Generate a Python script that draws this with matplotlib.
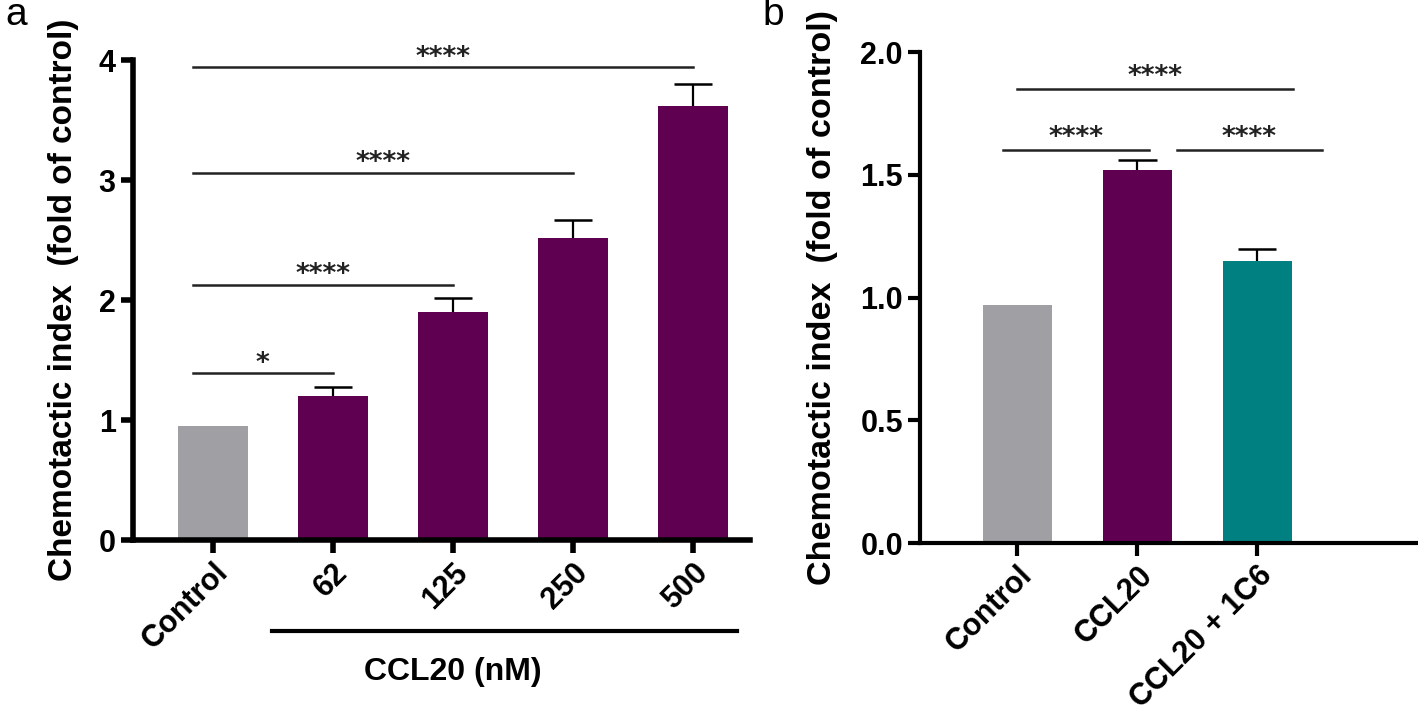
import matplotlib
matplotlib.use("Agg")
import matplotlib.pyplot as plt

plt.rcParams['font.family'] = ['Liberation Sans', 'DejaVu Sans']

GRAY = '#a0a0a4'
PURPLE = '#600050'
TEAL = '#008080'

# panel a data
a_labels = ['Control', '62', '125', '250', '500']
a_means = [0.95, 1.20, 1.90, 2.52, 3.62]
a_err = [0.0, 0.08, 0.12, 0.15, 0.18]
a_colors = [GRAY, PURPLE, PURPLE, PURPLE, PURPLE]
# significance bars: (left x, right x, height, text)
a_sig = [(-0.17, 1, 1.39, '*'), (-0.17, 2, 2.13, '****'),
         (-0.17, 3, 3.06, '****'), (-0.17, 4, 3.94, '****')]

# panel b data
b_labels = ['Control', 'CCL20', 'CCL20 + 1C6']
b_means = [0.97, 1.52, 1.15]
b_err = [0.0, 0.04, 0.05]
b_colors = [GRAY, PURPLE, TEAL]
b_sig = [(0.0, 2.3, 1.85, '****'), (-0.12, 1.1, 1.60, '****'),
         (1.33, 2.54, 1.60, '****')]

fig = plt.figure(figsize=(14.18, 7.26), dpi=100)
ax1 = fig.add_axes([0.0938, 0.256, 0.435, 0.661])
ax2 = fig.add_axes([0.649, 0.252, 0.351, 0.676])


def style(ax, lw):
    for s in ['top', 'right']:
        ax.spines[s].set_visible(False)
    for s in ['left', 'bottom']:
        ax.spines[s].set_linewidth(lw)
    ax.tick_params(width=lw, length=9, labelsize=22)
    for t in ax.get_yticklabels():
        t.set_fontweight('bold')


def draw(ax, labels, means, err, colors, sig, star_dy):
    x = list(range(len(labels)))
    ax.bar(x, means, width=0.58, color=colors, zorder=2)
    # upper-only error bars with cap
    for xi, m, e in zip(x, means, err):
        if e > 0:
            ax.vlines(xi, m, m + e, color='black', lw=1.6, zorder=3)
            ax.hlines(m + e, xi - 0.16, xi + 0.16, color='black', lw=1.8,
                      zorder=3)
    for x0, x1, h, txt in sig:
        ax.plot([x0, x1], [h, h], color='#222222', lw=1.8, zorder=3)
        ax.text((x0 + x1) / 2, h + star_dy, txt, ha='center', va='center',
                fontsize=19, family='DejaVu Sans', fontweight='bold',
                color='#222222')
    ax.set_xticks(x)
    ax.set_xticklabels(labels, rotation=45, ha='right', rotation_mode='anchor',
                       fontsize=19.5, fontweight='bold')


draw(ax1, a_labels, a_means, a_err, a_colors, a_sig, 0.08)
ax1.set_xlim(-0.667, 4.475)
ax1.set_ylim(0, 4)
ax1.set_yticks([0, 1, 2, 3, 4])
style(ax1, 4)
ax1.set_ylabel('Chemotactic index  (fold of control)', fontsize=24,
               fontweight='bold', labelpad=14)

# bracket under CCL20 concentrations
ax1.plot([0.49, 4.37], [-0.76, -0.76], color='black', lw=3, clip_on=False)
ax1.text(2.0, -1.1, 'CCL20 (nM)', ha='center', va='center', fontsize=23,
         fontweight='bold')

draw(ax2, b_labels, b_means, b_err, b_colors, b_sig, 0.05)
ax2.set_xlim(-0.81, 3.34)
ax2.set_ylim(0, 2.0)
ax2.set_yticks([0, 0.5, 1.0, 1.5, 2.0])
ax2.set_yticklabels(['0.0', '0.5', '1.0', '1.5', '2.0'])
style(ax2, 3)
ax2.set_ylabel('Chemotactic index  (fold of control)', fontsize=24.6,
               fontweight='bold', labelpad=16)

fig.text(0.004, 0.965, 'a', fontsize=28)
fig.text(0.538, 0.965, 'b', fontsize=28)

fig.savefig('out.png', dpi=100)
